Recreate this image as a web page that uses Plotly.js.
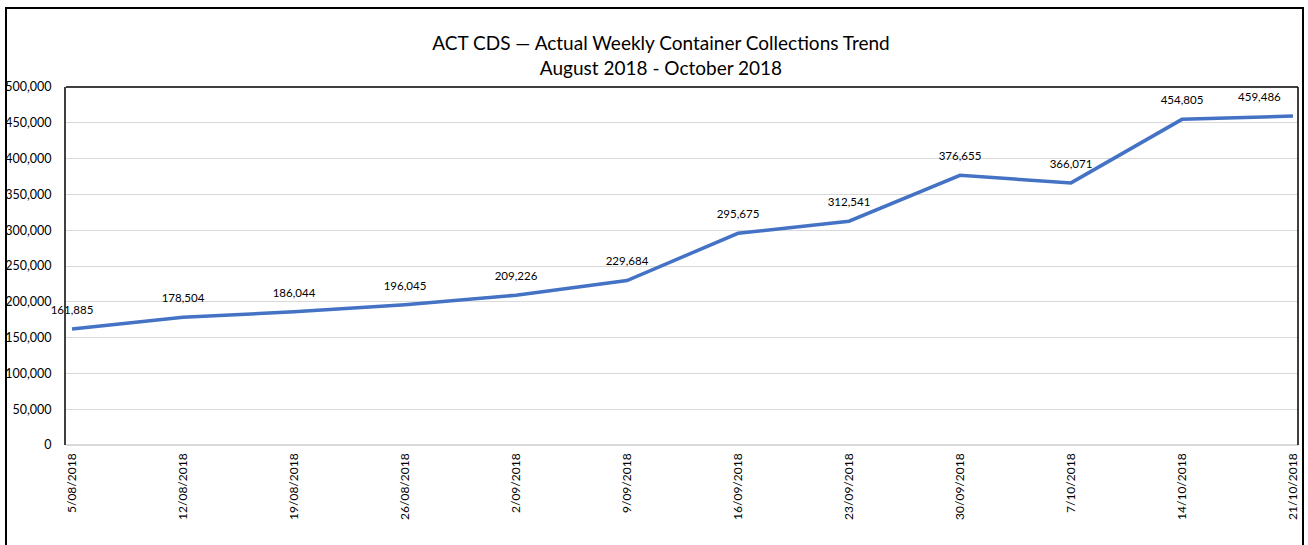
<!DOCTYPE html>
<html>
<head>
<meta charset="utf-8">
<script src="https://cdn.plot.ly/plotly-3.0.1.min.js"></script>
<style>
  html, body { margin: 0; padding: 0; background: #fff; }
  #wrap { position: relative; width: 1308px; height: 545px; overflow: hidden; }
  #chart { position: absolute; left: 0; top: 0; width: 1308px; height: 545px; }
  #frame { position: absolute; left: 5px; top: 7px; width: 1295px; height: 600px; border: 2px solid #000; pointer-events: none; }
</style>
</head>
<body>
<div id="wrap">
  <div id="chart"></div>
  <div id="frame"></div>
</div>
<script>
const weeks = ["5/08/2018", "12/08/2018", "19/08/2018", "26/08/2018", "2/09/2018", "9/09/2018",
               "16/09/2018", "23/09/2018", "30/09/2018", "7/10/2018", "14/10/2018", "21/10/2018"];
const collections = [161885, 178504, 186044, 196045, 209226, 229684,
                     295675, 312541, 376655, 366071, 454805, 459486];
const yTicks = [0, 50000, 100000, 150000, 200000, 250000, 300000, 350000, 400000, 450000, 500000];
const titleLine1 = "ACT CDS — Actual Weekly Container Collections Trend";
const titleLine2 = "August 2018 - October 2018";

const FONT = "Lato, 'Open Sans', sans-serif";
const idx = weeks.map((w, i) => i);
const labels = collections.map(v => v.toLocaleString('en-US'));
const positions = collections.map((v, i) => i === collections.length - 1 ? 'top left' : 'top center');

const trace = {
  x: idx,
  y: collections,
  type: 'scatter',
  mode: 'lines+markers+text',
  line: { color: '#4472C4', width: 3.5 },
  marker: { size: 18, color: 'rgba(0,0,0,0)' },
  text: labels,
  textposition: positions,
  textfont: { family: FONT, size: 11.5, color: '#000' },
  cliponaxis: false,
  hoverinfo: 'x+y'
};

const layout = {
  width: 1308,
  height: 545,
  margin: { l: 66, r: 10, t: 87, b: 100 },
  paper_bgcolor: '#fff',
  plot_bgcolor: '#fff',
  showlegend: false,
  font: { family: FONT, size: 12, color: '#000' },
  title: {
    text: titleLine1 + '<br>' + titleLine2,
    font: { family: FONT, size: 19, color: '#000' },
    xref: 'container', yref: 'container',
    x: 661 / 1308, xanchor: 'center',
    y: 1 - 50 / 545, yanchor: 'middle'
  },
  xaxis: {
    type: 'linear',
    range: [-0.054, 11.045],
    tickmode: 'array',
    tickvals: idx,
    ticktext: weeks,
    tickangle: -90,
    showgrid: false,
    zeroline: false,
    showline: false,
    ticks: '',
    ticklabelstandoff: 5,
    tickfont: { family: FONT, size: 12, color: '#000' },
    fixedrange: true
  },
  yaxis: {
    range: [0, 500000],
    tickmode: 'array',
    tickvals: yTicks,
    tickformat: ',d',
    showgrid: true,
    gridcolor: '#d9d9d9',
    gridwidth: 1,
    zeroline: true,
    zerolinecolor: '#d9d9d9',
    zerolinewidth: 1.5,
    showline: true,
    linecolor: '#404040',
    linewidth: 2,
    ticks: '',
    ticklabelstandoff: 10,
    tickfont: { family: FONT, size: 12.5, color: '#000' },
    fixedrange: true
  },
  shapes: [
    { type: 'line', xref: 'paper', yref: 'paper', x0: 0, x1: 1, y0: 1, y1: 1, line: { color: '#000', width: 1.5 } },
    { type: 'line', xref: 'paper', yref: 'paper', x0: 1, x1: 1, y0: 0, y1: 1, line: { color: '#000', width: 1.5 } }
  ]
};

Plotly.newPlot('chart', [trace], layout, { displayModeBar: false, staticPlot: true });
</script>
</body>
</html>
